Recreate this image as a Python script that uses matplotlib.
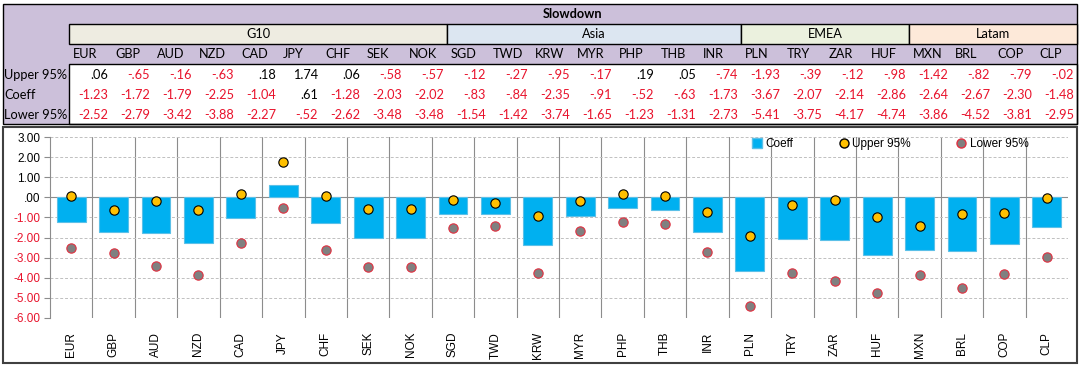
import matplotlib
matplotlib.use('Agg')
import matplotlib.pyplot as plt
import numpy as np
from matplotlib.patches import Rectangle
from matplotlib.lines import Line2D

currencies = ['EUR', 'GBP', 'AUD', 'NZD', 'CAD', 'JPY', 'CHF', 'SEK', 'NOK',
              'SGD', 'TWD', 'KRW', 'MYR', 'PHP', 'THB', 'INR',
              'PLN', 'TRY', 'ZAR', 'HUF',
              'MXN', 'BRL', 'COP', 'CLP']
groups = ['G10', 'Asia', 'EMEA', 'Latam']
group_sizes = [9, 7, 4, 4]
upper = [0.06, -0.65, -0.16, -0.63, 0.18, 1.74, 0.06, -0.58, -0.57,
         -0.12, -0.27, -0.95, -0.17, 0.19, 0.05, -0.74,
         -1.93, -0.39, -0.12, -0.98,
         -1.42, -0.82, -0.79, -0.02]
coeff = [-1.23, -1.72, -1.79, -2.25, -1.04, 0.61, -1.28, -2.03, -2.02,
         -0.83, -0.84, -2.35, -0.91, -0.52, -0.63, -1.73,
         -3.67, -2.07, -2.14, -2.86,
         -2.64, -2.67, -2.30, -1.48]
lower = [-2.52, -2.79, -3.42, -3.88, -2.27, -0.52, -2.62, -3.48, -3.48,
         -1.54, -1.42, -3.74, -1.65, -1.23, -1.31, -2.73,
         -5.41, -3.75, -4.17, -4.74,
         -3.86, -4.52, -3.81, -2.95]
row_names = ['Upper 95%', 'Coeff', 'Lower 95%']
title = 'Slowdown'

PURPLE = '#ccc0da'
GROUP_COLORS = ['#eeece1', '#dce6f1', '#ebf1de', '#fde9d9']
RED = '#e8132c'
BLUE = '#00b0f0'
GOLD = '#ffc000'

TFONT = 'Lato'
CFONT = 'Liberation Sans'
TSIZE = 9.2


def fmt(v):
    s = '%.2f' % v
    if s.startswith('0.'):
        s = s[1:]
    elif s.startswith('-0.'):
        s = '-' + s[2:]
    return s


W, H = 1082, 366
fig = plt.figure(figsize=(W / 100, H / 100), dpi=100)
fig.patch.set_facecolor('white')

# ---- table drawn in pixel coordinates
bg = fig.add_axes([0, 0, 1, 1])
bg.set_xlim(0, W)
bg.set_ylim(H, 0)
bg.axis('off')

x0, xl, xr = 3, 69, 1077
cw = (xr - xl) / len(currencies)

bg.add_patch(Rectangle((x0, 4), xr - x0, 60, facecolor=PURPLE, edgecolor='none'))
bg.add_patch(Rectangle((x0, 64), xl - x0, 60, facecolor=PURPLE, edgecolor='none'))
bg.add_patch(Rectangle((xl, 64), xr - xl, 60, facecolor='white', edgecolor='black', lw=1))
bg.add_patch(Rectangle((x0, 4), xr - x0, 120, facecolor='none', edgecolor='black', lw=1))
bg.text((xl + xr) / 2, 14.5, title, ha='center', va='center', fontsize=TSIZE,
        fontweight='bold', family=TFONT)

start = 0
for g, n, c in zip(groups, group_sizes, GROUP_COLORS):
    gx = xl + start * cw
    bg.add_patch(Rectangle((gx, 24), n * cw, 20, facecolor=c, edgecolor='black', lw=1))
    bg.text(gx + n * cw / 2, 34.5, g, ha='center', va='center', fontsize=TSIZE, family=TFONT)
    start += n

for i, cur in enumerate(currencies):
    bg.text(xl + i * cw + 4, 54.5, cur, ha='left', va='center', fontsize=TSIZE, family=TFONT)

for r, (name, vals) in enumerate(zip(row_names, [upper, coeff, lower])):
    yc = 75 + r * 20
    bg.text(x0 + 1, yc, name, ha='left', va='center', fontsize=TSIZE, family=TFONT)
    for i, v in enumerate(vals):
        bg.text(xl + (i + 1) * cw - 3, yc, fmt(v), ha='right', va='center',
                fontsize=TSIZE, family=TFONT, color=RED if v < 0 else 'black')

# chart frame
bg.add_patch(Rectangle((3, 127), 1074, 236, facecolor='white', edgecolor='#404040', lw=1.5))

# ---- chart
ax = fig.add_axes([50 / W, (H - 318) / H, (1068 - 50) / W, (318 - 137) / H])
ax.set_facecolor('none')
x = np.arange(len(currencies))
ax.bar(x, coeff, width=0.68, color=BLUE, edgecolor='#5bc0e8', lw=0.8, zorder=3, label='Coeff')
ax.scatter(x, upper, s=45, color=GOLD, edgecolor='black', lw=0.8, zorder=4, label='Upper 95%')
ax.scatter(x, lower, s=45, color='#808080', edgecolor='#e03040', lw=0.8, zorder=4, label='Lower 95%')

ax.set_xlim(-0.5, len(currencies) - 0.5)
ax.set_ylim(-6, 3)
yt = np.arange(-6, 4)
ax.set_yticks(yt)
ax.set_yticklabels([fmt(v) for v in yt], fontsize=8.5, family=CFONT)
for lab, v in zip(ax.get_yticklabels(), yt):
    lab.set_color(RED if v < 0 else 'black')
ax.yaxis.grid(True, color='#c0c0c0', ls=(0, (3, 2)), lw=0.7, zorder=0)
for b in np.arange(0.5, len(currencies) - 0.5):
    ax.axvline(b, color='#8c8c8c', lw=0.8, zorder=1)
ax.axhline(0, color='#8c8c8c', lw=0.8, zorder=2)

ax.set_xticks(x)
ax.set_xticklabels(currencies, rotation=90, fontsize=8.5, family=CFONT)
ax.tick_params(axis='x', length=0, pad=10)
ax.tick_params(axis='y', length=4, color='#8c8c8c', pad=3)
for s in ['top', 'right', 'bottom']:
    ax.spines[s].set_visible(False)
ax.spines['left'].set_color('#8c8c8c')
ax.spines['left'].set_linewidth(0.8)

handles = [
    Line2D([], [], ls='none', marker='s', ms=6.5, color=BLUE, mec='#5bc0e8'),
    Line2D([], [], ls='none', marker='o', ms=6.5, color=GOLD, mec='black'),
    Line2D([], [], ls='none', marker='o', ms=6.5, color='#808080', mec='#e03040'),
]
ax.legend(handles, ['Coeff', 'Upper 95%', 'Lower 95%'], loc='upper right',
          bbox_to_anchor=(0.961, 0.995), ncol=3, frameon=False,
          prop={'family': CFONT, 'size': 8.5}, handlelength=1.0, handletextpad=0.2,
          columnspacing=3.8, borderaxespad=0, borderpad=0)

fig.savefig('out.png', dpi=100)
